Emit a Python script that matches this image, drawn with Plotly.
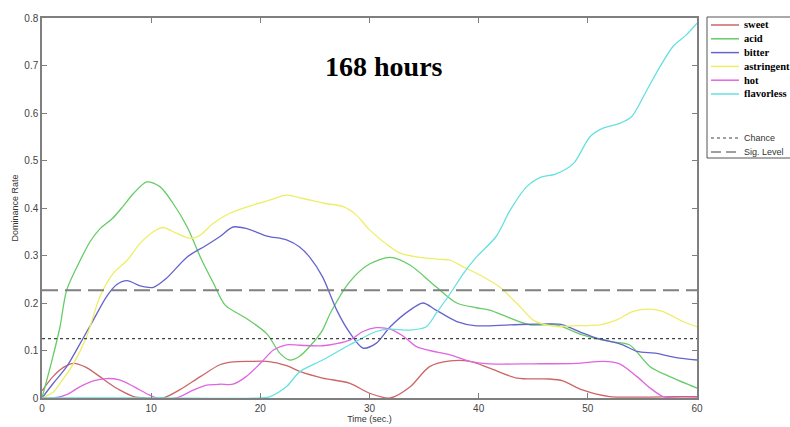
import plotly.graph_objects as go

# ---- data ----
sweet_t = [0, 1, 2, 2.9, 4, 5.3, 6.2, 7.1, 8.4, 9.5, 11.1, 12.6, 14.5, 16.3, 17.5, 19, 20.6, 22.4, 23.6, 25.7, 28.2, 30, 31.9, 33.7, 35.5, 37.4, 39.2, 41, 43.5, 46.5, 47.7, 49.5, 52, 55, 58, 60]
sweet_v = [0.015, 0.045, 0.065, 0.073, 0.065, 0.045, 0.03, 0.017, 0.003, 0, 0, 0.017, 0.045, 0.07, 0.076, 0.077, 0.077, 0.068, 0.056, 0.042, 0.031, 0.01, 0, 0.023, 0.066, 0.078, 0.077, 0.063, 0.042, 0.04, 0.036, 0.017, 0.003, 0.002, 0.003, 0.003]

acid_t = [0, 1, 1.65, 2.26, 3.5, 4.4, 5.3, 6.5, 7.4, 8.4, 9.6, 10.8, 12, 13.3, 14.5, 15.7, 16.8, 18.7, 20.6, 21.8, 22.7, 23.6, 24.5, 25.7, 26.4, 28.2, 30, 31.9, 33.7, 36.1, 38, 39.8, 41, 42.9, 44.7, 47.1, 49.5, 52, 53.8, 55.7, 57.5, 60]
acid_v = [0, 0.087, 0.15, 0.227, 0.29, 0.329, 0.356, 0.379, 0.403, 0.431, 0.455, 0.445, 0.41, 0.36, 0.297, 0.242, 0.195, 0.168, 0.135, 0.094, 0.08, 0.088, 0.108, 0.143, 0.178, 0.245, 0.282, 0.296, 0.28, 0.234, 0.2, 0.19, 0.185, 0.168, 0.154, 0.154, 0.133, 0.119, 0.112, 0.066, 0.045, 0.021]

bitter_t = [0, 1, 2.26, 3.5, 4.7, 5.9, 6.8, 7.8, 9, 10.2, 11.4, 13.3, 15.1, 16.3, 17.5, 18.7, 20.6, 22.4, 23.6, 24.5, 25.7, 27, 28.2, 29.4, 30.6, 31.9, 33.7, 34.9, 36.1, 38, 39.8, 42.9, 46.5, 47.7, 49.5, 50.8, 53.2, 54.5, 56.3, 58.1, 60]
bitter_v = [0, 0.03, 0.066, 0.115, 0.164, 0.213, 0.238, 0.247, 0.236, 0.233, 0.252, 0.297, 0.322, 0.34, 0.36, 0.357, 0.341, 0.333, 0.318, 0.297, 0.255, 0.185, 0.137, 0.105, 0.115, 0.15, 0.185, 0.2, 0.185, 0.161, 0.152, 0.154, 0.156, 0.154, 0.137, 0.126, 0.112, 0.098, 0.094, 0.085, 0.08]

astringent_t = [0, 1, 1.65, 2.9, 4.1, 5.3, 6.5, 7.8, 9, 10.2, 11.1, 12.3, 13.6, 14.5, 15.7, 17.2, 19, 20.9, 22.4, 23.9, 25.8, 27.6, 28.8, 30, 31.9, 32.8, 34.6, 36.4, 37.4, 38.6, 40.1, 41.9, 43.8, 45, 46.2, 47.4, 48.4, 51.1, 52.6, 54.1, 55.7, 56.9, 58.7, 60]
astringent_v = [0, 0.012, 0.031, 0.073, 0.13, 0.213, 0.262, 0.29, 0.326, 0.35, 0.359, 0.347, 0.336, 0.343, 0.368, 0.389, 0.404, 0.417, 0.427, 0.42, 0.41, 0.403, 0.385, 0.354, 0.318, 0.305, 0.296, 0.292, 0.29, 0.276, 0.259, 0.234, 0.192, 0.164, 0.154, 0.15, 0.152, 0.154, 0.164, 0.182, 0.187, 0.182, 0.161, 0.15]

hot_t = [0, 1.1, 2.26, 3.5, 4.7, 5.9, 7.1, 8.4, 9.6, 10.5, 12.3, 13.9, 15.1, 16.3, 17.5, 18.7, 20, 21.2, 22.4, 23.6, 25.7, 28.2, 29.4, 30.6, 31.9, 33.1, 34.3, 35.5, 37.4, 39.2, 41, 45, 49, 51.4, 52.9, 54.5, 55.7, 56.9, 58, 60]
hot_v = [0, 0, 0.007, 0.024, 0.036, 0.041, 0.038, 0.024, 0.009, 0, 0, 0.017, 0.027, 0.029, 0.029, 0.045, 0.073, 0.101, 0.112, 0.111, 0.11, 0.122, 0.14, 0.148, 0.145, 0.13, 0.108, 0.1, 0.091, 0.077, 0.072, 0.072, 0.073, 0.077, 0.072, 0.045, 0.021, 0.003, 0, 0]

flavorless_t = [0, 10, 20, 20.9, 22.4, 23.6, 25.7, 28.2, 30.6, 31.9, 33.7, 35.2, 36.1, 37.4, 38.6, 39.8, 41.6, 42.9, 44.4, 45.6, 47.1, 48.7, 50.2, 51.4, 52.9, 54, 55.4, 56.6, 57.8, 59, 60]
flavorless_v = [0, 0, 0, 0.003, 0.024, 0.055, 0.08, 0.112, 0.14, 0.145, 0.143, 0.15, 0.178, 0.22, 0.262, 0.297, 0.34, 0.396, 0.445, 0.464, 0.472, 0.494, 0.55, 0.568, 0.578, 0.592, 0.648, 0.697, 0.74, 0.764, 0.789]

chance_level = 0.125
sig_level = 0.227
time_range = [0, 60]

series_names = ["sweet", "acid", "bitter", "astringent", "hot", "flavorless"]
series_t = [sweet_t, acid_t, bitter_t, astringent_t, hot_t, flavorless_t]
series_v = [sweet_v, acid_v, bitter_v, astringent_v, hot_v, flavorless_v]
series_colors = ["#cc6666", "#66cc66", "#6464cc", "#eeee66", "#e066e0", "#66e0e0"]

ref_names = ["Chance", "Sig. Level"]
ref_values = [chance_level, sig_level]
ref_styles = [dict(color="#444444", width=1.2, dash="dot"),
              dict(color="#808080", width=2, dash="16px,7px")]

# layout geometry (pixels)
W, H = 790, 427
ML, MR, MT, MB = 42, 93, 18, 29
PW, PH = W - ML - MR, H - MT - MB


def px_x(p):
    return (p - ML) / PW


def px_y(p):
    return (H - MB - p) / PH


fig = go.Figure()
for name, t, v, col in zip(series_names, series_t, series_v, series_colors):
    fig.add_trace(go.Scatter(
        x=t, y=v, mode="lines", name=name, showlegend=False,
        line=dict(color=col, width=1.3, shape="spline", smoothing=0.8),
    ))
for name, val, st in zip(ref_names, ref_values, ref_styles):
    fig.add_trace(go.Scatter(
        x=time_range, y=[val, val], mode="lines", name=name,
        showlegend=False, line=st,
    ))

shapes = []
annotations = []

# legend box (drawn manually so entries sit as tightly as in the reference)
shapes.append(dict(type="rect", xref="paper", yref="paper",
                   x0=px_x(707), x1=px_x(805), y0=px_y(158), y1=px_y(17),
                   line=dict(color="#555555", width=1), fillcolor="white", layer="above"))
entry_y = [25 + 13.8 * i for i in range(len(series_names))] + [138, 152]
entry_names = ["<b>%s</b>" % n for n in series_names] + ref_names
entry_lines = [dict(color=c, width=1.5) for c in series_colors] + ref_styles
entry_fonts = [dict(family="Liberation Serif", size=10.5, color="black")] * len(series_names) + \
              [dict(family="Liberation Sans", size=9, color="#333333")] * 2
for yy, nm, ln, fnt in zip(entry_y, entry_names, entry_lines, entry_fonts):
    ln2 = dict(ln)
    if ln2.get("dash") == "16px,7px":
        ln2["dash"] = "10px,5px"
        ln2["width"] = 1.5
    shapes.append(dict(type="line", xref="paper", yref="paper",
                       x0=px_x(711), x1=px_x(739), y0=px_y(yy), y1=px_y(yy),
                       line=ln2, layer="above"))
    annotations.append(dict(text=nm, xref="paper", yref="paper",
                            x=px_x(742), y=px_y(yy), xanchor="left", yanchor="middle",
                            showarrow=False, font=fnt))

annotations.append(dict(
    text="<b>168 hours</b>", x=px_x(384), y=px_y(49), xref="paper", yref="paper",
    showarrow=False, font=dict(family="Liberation Serif", size=28, color="black"),
))

axis_common = dict(
    showgrid=False, zeroline=False, showline=True, linecolor="#7f7f7f", linewidth=1.5,
    mirror="ticks", ticks="inside", ticklen=5, tickcolor="#7f7f7f",
    tickfont=dict(family="Liberation Sans", size=10, color="#444444"),
    automargin=False,
)

fig.update_layout(
    width=W, height=H,
    margin=dict(l=ML, r=MR, t=MT, b=MB, autoexpand=False),
    paper_bgcolor="white", plot_bgcolor="white",
    showlegend=False,
    shapes=shapes, annotations=annotations,
    xaxis=dict(range=time_range, tickvals=[0, 10, 20, 30, 40, 50, 60],
               title=dict(text="Time (sec.)", standoff=2,
                          font=dict(family="Liberation Sans", size=9, color="#333333")),
               **axis_common),
    yaxis=dict(range=[0, 0.8], tickvals=[0, 0.1, 0.2, 0.3, 0.4, 0.5, 0.6, 0.7, 0.8],
               ticktext=["0", "0.1", "0.2", "0.3", "0.4", "0.5", "0.6", "0.7", "0.8"],
               title=dict(text="Dominance Rate", standoff=4,
                          font=dict(family="Liberation Sans", size=9, color="#333333")),
               **axis_common),
)

fig.write_html("out.html", config={"displayModeBar": False},
               post_script="document.body.style.margin='0px';document.body.style.overflow='hidden';")
